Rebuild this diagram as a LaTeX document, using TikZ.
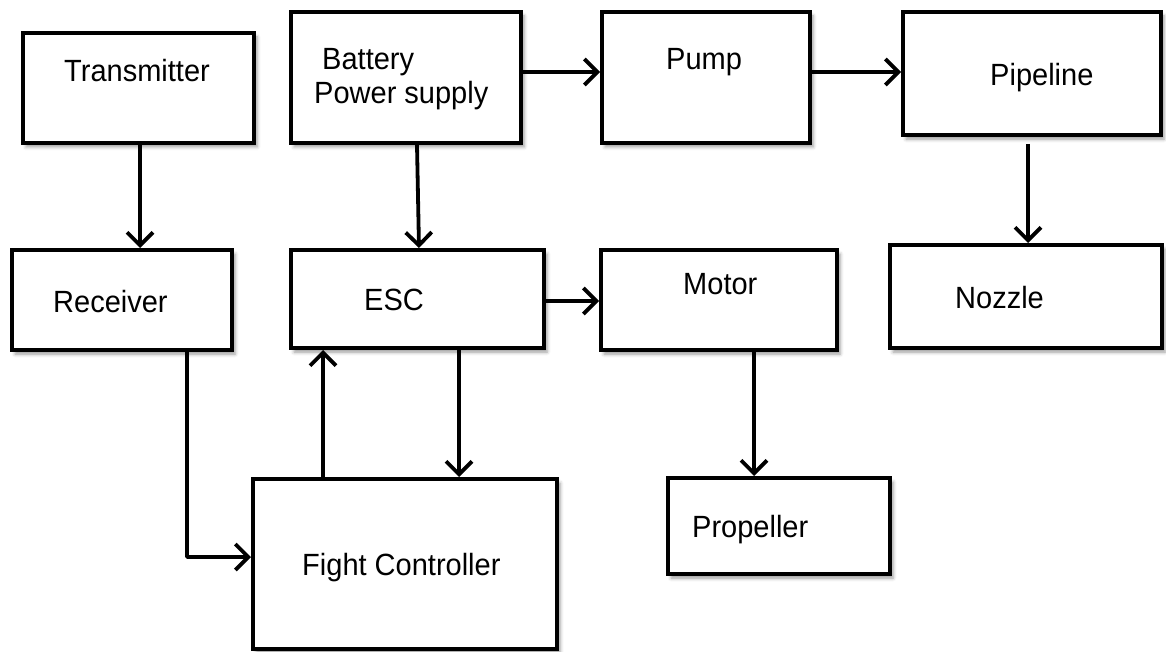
\documentclass[tikz,border=0pt]{standalone}
\usepackage{fontspec}
\setmainfont{Liberation Sans}[FakeStretch=0.945]
\usetikzlibrary{arrows.meta,shadows.blur}
\begin{document}
\begin{tikzpicture}[x=1pt,y=-1pt,
  blk/.style={draw=black, line width=4pt, fill=white, rectangle, inner sep=0pt,
    blur shadow={shadow xshift=3pt, shadow yshift=-4pt, shadow blur radius=3.5pt, shadow opacity=40}},
  lbl/.style={anchor=base west, inner sep=0pt, font=\fontsize{30.7}{36}\selectfont},
  arr/.style={line width=3.8pt, line join=round, -{Straight Barb[length=13pt,width=26pt]}}]
\useasboundingbox (0,0) rectangle (1166,652);
% boxes
\node[blk, minimum width=231pt, minimum height=110pt] (tx) at (138.5,88) {};
\node[blk, minimum width=230pt, minimum height=131pt] (bat) at (406,77.5) {};
\node[blk, minimum width=208pt, minimum height=131pt] (pump) at (706,77.5) {};
\node[blk, minimum width=258pt, minimum height=123pt] (pipe) at (1032,73.5) {};
\node[blk, minimum width=220pt, minimum height=100pt] (rx) at (122,300) {};
\node[blk, minimum width=253pt, minimum height=98pt] (esc) at (417.5,299) {};
\node[blk, minimum width=236pt, minimum height=100pt] (motor) at (719,300) {};
\node[blk, minimum width=272pt, minimum height=103pt] (nozzle) at (1026,296.5) {};
\node[blk, minimum width=304pt, minimum height=170pt] (fc) at (405,564) {};
\node[blk, minimum width=222pt, minimum height=96pt] (prop) at (779,526) {};
% labels
\node[lbl] (t-tx) at (64,82) {Transmitter};
\node[lbl] (t-bat1) at (322,70) {Battery};
\node[lbl] (t-bat2) at (314,104) {Power supply};
\node[lbl] (t-pump) at (666,70) {Pump};
\node[lbl] (t-pipe) at (990,86) {Pipeline};
\node[lbl] (t-rx) at (53,312) {Receiver};
\node[lbl] (t-esc) at (364,310) {ESC};
\node[lbl] (t-motor) at (683,294) {Motor};
\node[lbl] (t-nozzle) at (955,308) {Nozzle};
\node[lbl] (t-fc) at (302,575) {Fight Controller};
\node[lbl] (t-prop) at (692,537) {Propeller};
% helper coordinates
\coordinate (c140) at (140,0);
\coordinate (ytop) at (0,72);
\coordinate (c1028) at (1028,0);
\coordinate (ymid) at (0,301);
\coordinate (c754) at (754,0);
\coordinate (c459) at (459,0);
\coordinate (c323) at (323,0);
\coordinate (c122) at (122,0);
\coordinate (c187) at (187,0);
\coordinate (y557) at (0,557);
% connectors
\draw[arr] (tx.south -| c140) -- (rx.north -| c140);
\draw[arr] ([xshift=11pt]bat.south) -- ([xshift=1.5pt]esc.north);
\draw[arr] (bat.east |- ytop) -- (pump.west |- ytop);
\draw[arr] (pump.east |- ytop) -- (pipe.west |- ytop);
\draw[arr, shorten <=7pt] (pipe.south -| c1028) -- (nozzle.north -| c1028);
\draw[arr] (esc.east |- ymid) -- (motor.west |- ymid);
\draw[arr] (motor.south -| c754) -- (prop.north -| c754);
\draw[arr] (esc.south -| c459) -- (fc.north -| c459);
\draw[arr] (fc.north -| c323) -- (esc.south -| c323);
\draw[arr] ([yshift=2.5pt]rx.south -| c122) -- ([yshift=2.5pt]rx.south -| c187) |- (fc.west |- y557);
\end{tikzpicture}
\end{document}
